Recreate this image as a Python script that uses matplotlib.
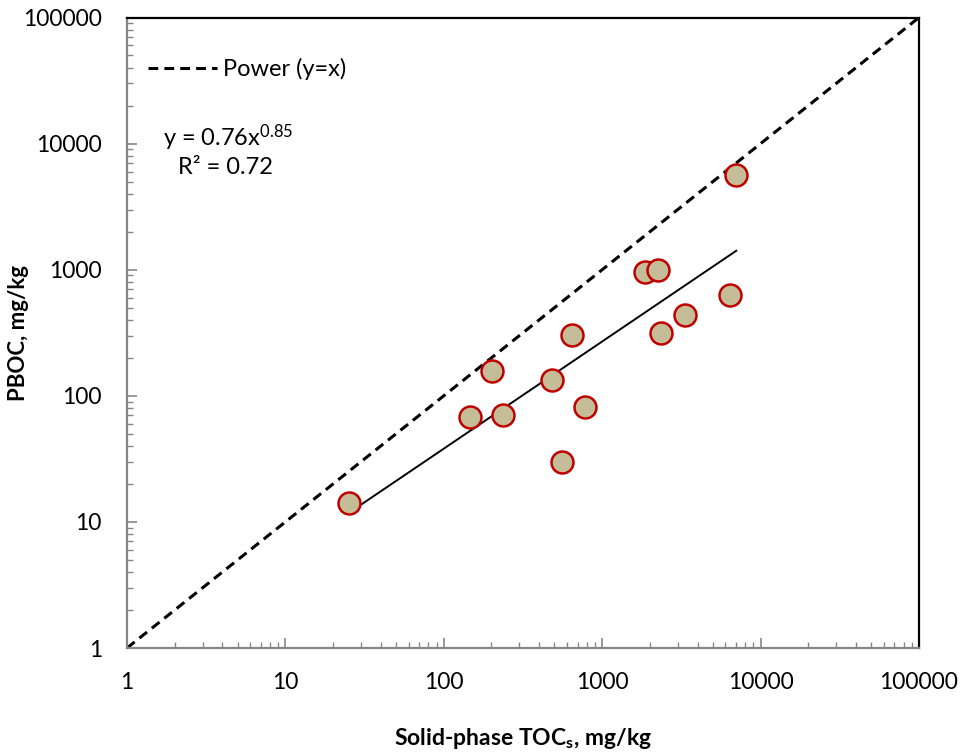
import numpy as np
import matplotlib
matplotlib.use("Agg")
import matplotlib.pyplot as plt

# solid-phase TOC (mg/kg) vs PBOC (mg/kg)
toc_s = [25.2, 147, 203, 237, 485, 643, 784, 561, 1863, 2251, 2362, 3318, 6430, 7020]
pboc = [14.2, 67.8, 158, 70.3, 134, 305, 81.8, 30.1, 964, 988, 314, 434, 630, 5640]

# power trendline y = a * x^b
fit_a = 0.76
fit_b = 0.85
r_squared = 0.72

axis_ticks = [1, 10, 100, 1000, 10000, 100000]

plt.rcParams['font.family'] = ['Lato', 'DejaVu Sans']
plt.rcParams['mathtext.default'] = 'regular'

fig = plt.figure(figsize=(9.64, 7.55), dpi=100)
ax = fig.add_axes([0.1317, 0.1417, 0.8216, 0.8351])

# 1:1 line
ax.plot([axis_ticks[0], axis_ticks[-1]], [axis_ticks[0], axis_ticks[-1]],
        ls=(0, (3.2, 2.0)), color='black', lw=2.2, label='Power (y=x)', zorder=2)

# fitted power trendline over data range
xfit = np.logspace(np.log10(min(toc_s)), np.log10(max(toc_s)), 100)
ax.plot(xfit, fit_a * xfit ** fit_b, color='black', lw=1.4, zorder=2)

ax.scatter(toc_s, pboc, s=250, facecolor='#C4BD97', edgecolor='#C00000',
           linewidths=1.8, zorder=3)

ax.set_xscale('log')
ax.set_yscale('log')
ax.set_xlim(1, 100000)
ax.set_ylim(1, 100000)
ax.set_xticks(axis_ticks)
ax.set_yticks(axis_ticks)
ax.set_xticklabels([str(t) for t in axis_ticks])
ax.set_yticklabels([str(t) for t in axis_ticks])
ax.tick_params(axis='both', which='major', direction='in', length=7, width=1.2,
               color='#868686', labelsize=16.5)
ax.tick_params(axis='both', which='minor', direction='in', length=4, width=1,
               color='#868686')
ax.tick_params(axis='x', which='major', pad=17)
ax.tick_params(axis='y', which='major', pad=18)

for side in ['left', 'bottom']:
    ax.spines[side].set_color('#868686')
    ax.spines[side].set_linewidth(1.6)
for side in ['top', 'right']:
    ax.spines[side].set_color('black')
    ax.spines[side].set_linewidth(1.6)

ax.set_xlabel('Solid-phase TOC$_s$, mg/kg', fontsize=16.5, fontweight='bold', labelpad=24)
ax.set_ylabel('PBOC, mg/kg', fontsize=16, fontweight='bold')
ax.yaxis.set_label_coords(-0.124, 0.5)

ax.legend(loc='upper left', frameon=False, fontsize=17, handlelength=2.9,
          handletextpad=0.25, bbox_to_anchor=(0.0, 0.97))

ax.text(0.046, 0.81, 'y = %.2fx$^{%.2f}$' % (fit_a, fit_b), transform=ax.transAxes,
        fontsize=17, va='center')
ax.text(0.064, 0.762, 'R² = %.2f' % r_squared, transform=ax.transAxes,
        fontsize=17, va='center')

fig.savefig('out.png', dpi=100)
